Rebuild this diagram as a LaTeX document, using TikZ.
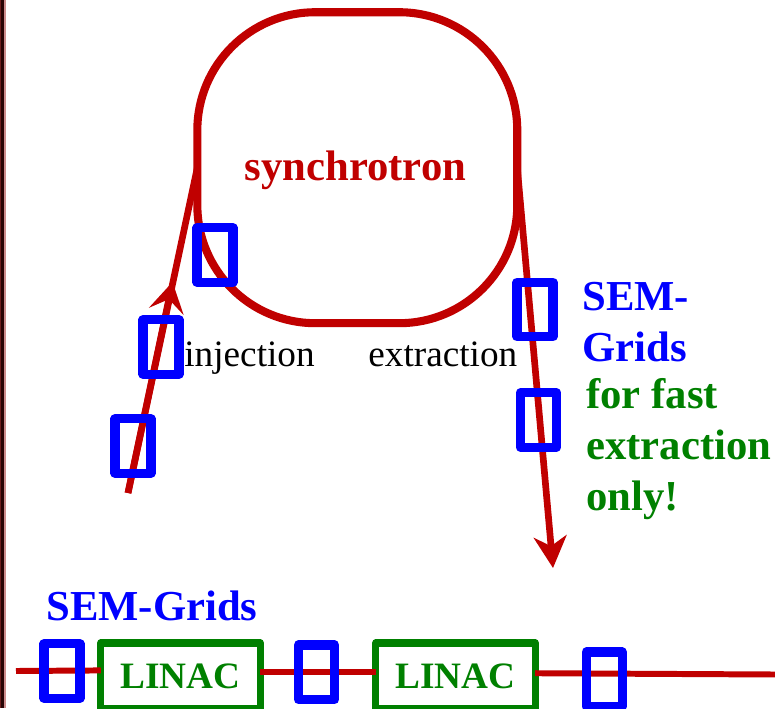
\documentclass[tikz,border=0pt]{standalone}
\usepackage{fontspec}
\setmainfont{Liberation Serif}
\usetikzlibrary{arrows.meta,positioning}
\definecolor{beamred}{RGB}{192,0,0}
\definecolor{gridblue}{RGB}{0,0,255}
\definecolor{linacgreen}{RGB}{0,128,0}
\definecolor{edgemaroon}{RGB}{110,30,30}
\definecolor{edgedark}{RGB}{40,5,5}
\definecolor{edgepink}{RGB}{205,140,140}

\begin{document}
\begin{tikzpicture}[
    x=0.02cm, y=-0.02cm,
    ring/.style={draw=beamred, line width=4.6pt, rounded corners=2.36cm, outer sep=0pt,
                 minimum width=6.4cm, minimum height=6.22cm},
    beam/.style={draw=beamred, line width=3.8pt},
    linebeam/.style={draw=beamred, line width=3.4pt},
    injarr/.style={beam, -{Stealth[length=17pt, width=20pt, inset=7pt]}},
    extarr/.style={beam, -{Stealth[length=18pt, width=18.7pt, inset=5.5pt]}},
    semgrid/.style={draw=gridblue, line width=5.2pt, line join=round,
                    minimum width=0.72cm, minimum height=1.09cm},
    linac/.style={draw=linacgreen, fill=white, line width=4.1pt, line join=round, outer sep=0pt,
                  minimum width=3.19cm, minimum height=1.32cm, inner sep=0pt,
                  text=linacgreen, font=\fontsize{21.2}{25}\selectfont\bfseries},
    lbl/.style={inner sep=0pt, font=\fontsize{21.2}{25}\selectfont},
    hdr/.style={inner sep=0pt, align=left, font=\fontsize{24.3}{29}\selectfont\bfseries}
  ]
  \useasboundingbox (0,0) rectangle (775,708);
  % --- Left edge ---
  \fill[edgemaroon] (0,0) rectangle (1,708);
  \fill[edgedark] (1,0) rectangle (4,708);
  \fill[edgepink] (4,0) rectangle (6,708);
  % --- Synchrotron ---
  \node[ring] (ring) at (357.3,167.7) {};
  \node[hdr, text=beamred] (synch) at (355.5,170) {synchrotron};
  % --- Injection line ---
  \coordinate (injstart) at (128,493);
  \coordinate (injtip) at (172.5,282);
  \draw[beam] (injstart) -- (ring.west);
  \draw[injarr] (injstart) -- (injtip);
  \node[lbl, anchor=base west] (inj) at (184,366) {injection};
  % --- Extraction line ---
  \coordinate (exttip) at (553,568);
  \draw[extarr] (ring.east) -- (exttip);
  \node[lbl, anchor=base west] (ext) at (368,366) {extraction};
  % --- Linac row ---
  \node[linac] (LA) at (180.5,676) {LINAC};
  \node[linac] (LB) at (455.5,676) {LINAC};
  \coordinate (linstart) at (16,671);
  \coordinate (linend) at (775,674.5);
  \draw[linebeam] (linstart) -- (LA.176.6);
  \draw[linebeam] (LA.3.4) -- (LB.177.1);
  \draw[linebeam] (LB.2.2) -- (linend);
  % --- SEM grids ---
  \node[semgrid] (GA) at (215,255) {};
  \node[semgrid] (GB) at (161,347) {};
  \node[semgrid] (GC) at (133,446) {};
  \node[semgrid] (GD) at (535,309.5) {};
  \node[semgrid] (GE) at (538.5,420) {};
  \node[semgrid] (GF) at (62,671) {};
  \node[semgrid] (GG) at (316.5,672.3) {};
  \node[semgrid] (GH) at (604.2,679.3) {};
  % --- Labels ---
  \node[hdr, text=gridblue, anchor=base west] (semtop) at (46,620) {SEM-Grids};
  \node[hdr, text=gridblue, anchor=west] (semright) at (582,322) {SEM-\\Grids};
  \node[hdr, text=linacgreen, anchor=west] (fastonly) at (586,449)
    {for fast\\extraction\\only!};
\end{tikzpicture}
\end{document}
